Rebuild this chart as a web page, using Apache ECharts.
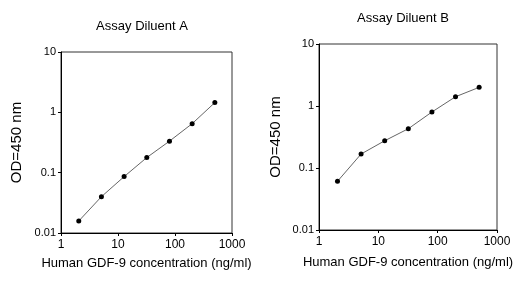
<!DOCTYPE html>
<html>
<head>
<meta charset="utf-8">
<script src="https://cdn.jsdelivr.net/npm/echarts@6/dist/echarts.min.js"></script>
<style>
  html, body { margin: 0; padding: 0; background: #fff; }
  #chart { width: 519px; height: 291px; }
</style>
</head>
<body>
<div id="chart"></div>
<script>
// GDF-9 standard concentrations (ng/ml)
var concentrations = [2.05, 5.12, 12.8, 32, 80, 200, 500];
// OD=450 nm readings
var odDiluentA = [0.0158, 0.040, 0.086, 0.178, 0.333, 0.649, 1.45];
var odDiluentB = [0.061, 0.168, 0.275, 0.43, 0.80, 1.41, 2.0];
var titles = ['Assay Diluent A', 'Assay Diluent B'];

var font = 'Liberation Sans, Arial, sans-serif';

function pairs(xs, ys) {
    return xs.map(function (x, i) { return [x, ys[i]]; });
}

function plainNumber(v) {
    return String(+(+v).toPrecision(3));
}

function xAxisFor(idx, gap) {
    return {
        type: 'log', gridIndex: idx, logBase: 10, min: 1, max: 1000,
        name: 'Human GDF-9 concentration (ng/ml)',
        nameLocation: 'middle', nameGap: gap,
        nameTextStyle: { color: '#000', fontSize: 13, fontFamily: font },
        axisLine: { lineStyle: { color: '#000', width: 1 } },
        axisTick: { length: 3, lineStyle: { color: '#000' } },
        axisLabel: { color: '#000', fontSize: 12, fontFamily: font, margin: 6, formatter: plainNumber },
        splitLine: { show: false },
        minorTick: { show: false }
    };
}

function yAxisFor(idx, gap) {
    return {
        type: 'log', gridIndex: idx, logBase: 10, min: 0.01, max: 10,
        name: 'OD=450 nm',
        nameLocation: 'middle', nameGap: gap,
        nameTextStyle: { color: '#000', fontSize: 15, fontFamily: font },
        axisLine: { lineStyle: { color: '#000', width: 1 } },
        axisTick: { length: 3, lineStyle: { color: '#000' } },
        axisLabel: { color: '#000', fontSize: 11, fontFamily: font, margin: 5, formatter: plainNumber },
        splitLine: { show: false }
    };
}

function seriesFor(idx, ys) {
    return {
        type: 'line', xAxisIndex: idx, yAxisIndex: idx,
        data: pairs(concentrations, ys),
        symbol: 'circle', symbolSize: 5,
        itemStyle: { color: '#000' },
        lineStyle: { color: '#666', width: 1 },
        animation: false
    };
}

var chart = echarts.init(document.getElementById('chart'));
chart.setOption({
    backgroundColor: '#fff',
    animation: false,
    title: [
        { text: titles[0], left: 137, top: 15, textAlign: 'center',
          textStyle: { fontSize: 13, fontWeight: 'normal', color: '#000', fontFamily: font } },
        { text: titles[1], left: 398, top: 7, textAlign: 'center',
          textStyle: { fontSize: 13, fontWeight: 'normal', color: '#000', fontFamily: font } }
    ],
    grid: [
        { left: 61, top: 52, width: 171, height: 181, show: true, borderColor: '#333', borderWidth: 1 },
        { left: 319, top: 44, width: 178, height: 186, show: true, borderColor: '#333', borderWidth: 1 }
    ],
    xAxis: [xAxisFor(0, 24), xAxisFor(1, 26)],
    yAxis: [yAxisFor(0, 37), yAxisFor(1, 36)],
    series: [seriesFor(0, odDiluentA), seriesFor(1, odDiluentB)]
});
</script>
</body>
</html>
